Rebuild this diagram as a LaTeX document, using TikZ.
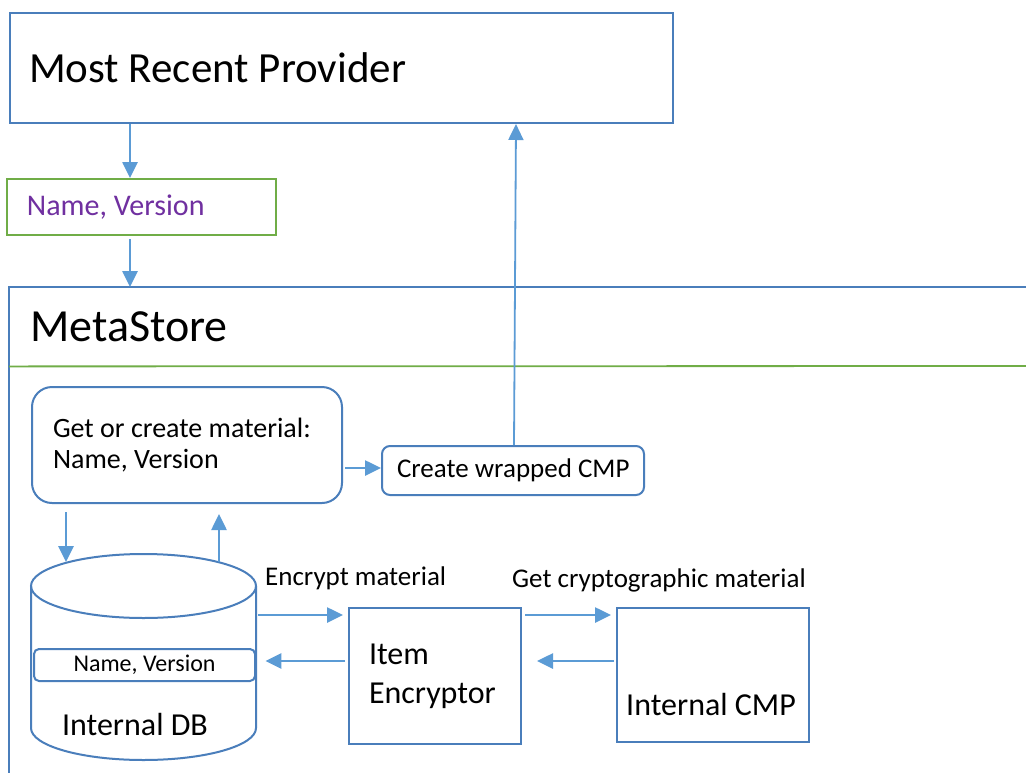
\documentclass[tikz,border=0pt]{standalone}
\usepackage{fontspec}
\setmainfont{Carlito}
\usetikzlibrary{arrows.meta}
\definecolor{boxblue}{HTML}{4A7EBB}
\definecolor{arrblue}{HTML}{5B9BD5}
\definecolor{grn}{HTML}{70AD47}
\definecolor{purp}{HTML}{7030A0}
\begin{document}
\begin{tikzpicture}[x=1pt,y=-1pt,
  box/.style={draw=boxblue, line width=2pt, anchor=north west, align=flush left, inner ysep=0pt},
  arr/.style={draw=arrblue, line width=2.6pt, -{Triangle[length=16pt,width=15pt]}},
  lbl/.style={anchor=west, inner sep=0pt, font=\fontsize{27}{32}\selectfont},
]
\useasboundingbox[fill=white] (0,0) rectangle (1026,772);

% Most Recent Provider
\node[box, inner xsep=19pt, text width=625pt, minimum height=110pt,
      font=\fontsize{43}{50}\selectfont] (provider) at (9,12) {Most Recent Provider};

% Name, Version (green)
\node[box, draw=grn, inner xsep=20pt, text width=229pt, minimum height=56pt,
      text=purp, font=\fontsize{30}{34}\selectfont] (nv) at (6,178) {Name, Version};

% MetaStore header
\node[anchor=north west, inner xsep=21pt, inner ysep=0pt, text width=975pt, minimum height=79pt,
      align=flush left, font=\fontsize{46}{54}\selectfont] (meta) at (9,287) {MetaStore};
\draw[draw=boxblue, line width=2.2pt] (9,775) -- (meta.north west) -- (1030,287);
\draw[draw=grn, line width=1.8pt] (meta.south west) -- (1030,366);

% Get or create material
\node[box, rounded corners=20pt, inner xsep=21pt, text width=268pt, minimum height=116pt,
      font=\fontsize{28}{31}\selectfont] (get) at (31,386) {Get or create material:\\Name, Version};

% Create wrapped CMP
\node[box, rounded corners=8pt, inner xsep=15pt, text width=232pt, minimum height=49pt,
      font=\fontsize{27}{32}\selectfont] (wrap) at (381,445) {\mbox{Create wrapped CMP}};

% Internal DB cylinder
\node[anchor=north west, minimum width=225pt, minimum height=206pt, inner sep=0pt] (db) at (31,554) {};
\draw[draw=boxblue, line width=2pt] (143.5,586) ellipse [x radius=112.5pt, y radius=32pt];
\draw[draw=boxblue, line width=2pt]
  (31,586) -- (31,728)
  .. controls (31,745.7) and (81.4,760) .. (143.5,760)
  .. controls (205.6,760) and (256,745.7) .. (256,728) -- (256,586);
\node[draw=boxblue, line width=2pt, rounded corners=5pt, anchor=north west,
      minimum width=221pt, minimum height=32pt, inner sep=0pt,
      font=\fontsize{24}{28}\selectfont] (dbnv) at (33,648) {Name, Version};
\node[inner sep=0pt, font=\fontsize{32}{38}\selectfont] (dblabel) at (135,724) {Internal DB};

% Item Encryptor
\node[box, inner xsep=20pt, text width=132pt, minimum height=136pt,
      font=\fontsize{32}{39}\selectfont] (enc) at (348,607) {Item\\Encryptor};

% Internal CMP
\node[box, minimum width=192pt, minimum height=134pt, inner sep=0pt] (cmp) at (616,607) {};
\node[anchor=west, inner sep=0pt, font=\fontsize{32}{38}\selectfont] (cmptext) at (626,704) {Internal CMP};

% Labels
\node[lbl] (enclbl) at (265,578) {Encrypt material};
\node[lbl] (cmplbl) at (512,580) {Get cryptographic material};

% Connectors
\draw[arr] (provider.south -| 130,0) -- (nv.north -| 130,0);
\draw[arr, shorten <=3pt] (nv.south -| 130,0) -- (meta.north -| 130,0);
\draw[arr, shorten <=2pt] (get.east |- 0,468) -- (wrap.west |- 0,468);
\draw[arr, line width=1.8pt] (wrap.north -| 514,0) -- (provider.south -| 516,0);
\draw[arr, shorten <=8pt] (get.south -| 66,0) -- (66,562);
\draw[arr, shorten >=10pt] (219,562) -- (get.south -| 219,0);
\draw[arr, shorten <=2pt, shorten >=5pt] (db.east |- 0,615) -- (enc.west |- 0,615);
\draw[arr, shorten <=3pt, shorten >=9pt] (enc.west |- 0,661) -- (db.east |- 0,661);
\draw[arr, shorten <=3pt, shorten >=5pt] (enc.east |- 0,615) -- (cmp.west |- 0,615);
\draw[arr, shorten <=2pt, shorten >=15pt] (cmp.west |- 0,661) -- (enc.east |- 0,661);
\end{tikzpicture}
\end{document}
